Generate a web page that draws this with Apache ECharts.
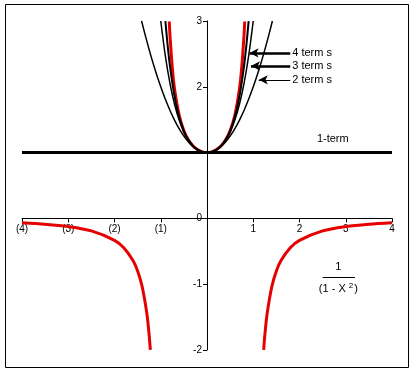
<!DOCTYPE html>
<html><head><meta charset="utf-8">
<script src="https://cdn.jsdelivr.net/npm/echarts@6/dist/echarts.min.js"></script>
<style>html,body{margin:0;padding:0;background:#fff}#c{width:416px;height:373px}</style>
</head><body><div id="c"></div>
<script>
const xRedLeft = [-4,-3.5,-3,-2.5,-2,-1.8,-1.6,-1.5,-1.4,-1.3,-1.25,-1.225];
const yRedLeft = [-0.0667,-0.0889,-0.125,-0.1905,-0.3333,-0.4464,-0.641,-0.8,-1.0417,-1.4493,-1.7778,-1.9975];
const xRedRight = [1.225,1.25,1.3,1.4,1.5,1.6,1.8,2,2.5,3,3.5,4];
const yRedRight = [-1.9975,-1.7778,-1.4493,-1.0417,-0.8,-0.641,-0.4464,-0.3333,-0.1905,-0.125,-0.0889,-0.0667];
const xRedMid = [-0.816,-0.8,-0.75,-0.7,-0.6,-0.5,-0.4,-0.3,-0.2,-0.1,0,0.1,0.2,0.3,0.4,0.5,0.6,0.7,0.75,0.8,0.816];
const yRedMid = [2.993,2.7778,2.2857,1.9608,1.5625,1.3333,1.1905,1.0989,1.0417,1.0101,1,1.0101,1.0417,1.0989,1.1905,1.3333,1.5625,1.9608,2.2857,2.7778,2.993];
const xOne = [-4,4];
const yOne = [1,1];
const xTwo = [-1.414,-1.3,-1.2,-1.1,-1,-0.9,-0.8,-0.7,-0.6,-0.5,-0.4,-0.3,-0.2,-0.1,0,0.1,0.2,0.3,0.4,0.5,0.6,0.7,0.8,0.9,1,1.1,1.2,1.3,1.414];
const yTwo = [3,2.69,2.44,2.21,2,1.81,1.64,1.49,1.36,1.25,1.16,1.09,1.04,1.01,1,1.01,1.04,1.09,1.16,1.25,1.36,1.49,1.64,1.81,2,2.21,2.44,2.69,3];
const xThree = [-1,-0.9,-0.8,-0.7,-0.6,-0.5,-0.4,-0.3,-0.2,-0.1,0,0.1,0.2,0.3,0.4,0.5,0.6,0.7,0.8,0.9,1];
const yThree = [3,2.4661,2.0496,1.7301,1.4896,1.3125,1.1856,1.0981,1.0416,1.0101,1,1.0101,1.0416,1.0981,1.1856,1.3125,1.4896,1.7301,2.0496,2.4661,3];
const xFour = [-0.9,-0.85,-0.8,-0.7,-0.6,-0.5,-0.4,-0.3,-0.2,-0.1,0,0.1,0.2,0.3,0.4,0.5,0.6,0.7,0.8,0.85,0.9];
const yFour = [2.9975,2.6217,2.3117,1.8477,1.5363,1.3281,1.1897,1.0988,1.0417,1.0101,1,1.0101,1.0417,1.0988,1.1897,1.3281,1.5363,1.8477,2.3117,2.6217,2.9975];
const xTickLabels = {"-4":"(4)","-3":"(3)","-2":"(2)","-1":"(1)","0":"","1":"1","2":"2","3":"3","4":"4"};
const yTickLabels = {"-2":"-2","-1":"-1","0":"0","1":"","2":"2","3":"3"};
const annoLabels = ["4 term s","3 term s","2 term s","1-term"];

const pairs = (xs, ys) => xs.map((x,i)=>[x, ys[i]]);
const FONT = "Liberation Sans";
const GRID = {left:22,right:24,top:21,bottom:23};
const W = 416, H = 373;
const RED = '#e60000';
const chart = echarts.init(document.getElementById('c'), null, {renderer:'canvas'});
const blk = (name, xs, ys, w) => ({name, type:'line', data:pairs(xs,ys), showSymbol:false, smooth:0.3,
  lineStyle:{color:'#000', width:w}, z:3, animation:false});
const red = (name, xs, ys, z) => ({name, type:'line', data:pairs(xs,ys), showSymbol:false, smooth:0.3,
  lineStyle:{color:RED, width:3}, z:z, animation:false});
chart.setOption({
  animation:false,
  grid:GRID,
  graphic:[{type:'rect', shape:{x:5.5,y:4.5,width:403,height:363}, style:{fill:'none', stroke:'#000', lineWidth:1}, silent:true}],
  xAxis:{type:'value', min:-4, max:4, interval:1, position:'bottom',
    axisLine:{onZero:false, lineStyle:{color:'#000', width:1}},
    axisTick:{show:true, length:4, inside:false, lineStyle:{color:'#000'}},
    splitLine:{show:false},
    axisLabel:{color:'#000', fontFamily:FONT, fontSize:10, margin:6, formatter:v=>xTickLabels[String(v)] ?? ''}},
  yAxis:{type:'value', min:-2, max:3, interval:1, position:'left',
    axisLine:{onZero:false, lineStyle:{color:'#000', width:1}},
    axisTick:{show:true, length:4, lineStyle:{color:'#000'}},
    splitLine:{show:false},
    axisLabel:{color:'#000', fontFamily:FONT, fontSize:10, margin:5, formatter:v=>yTickLabels[String(v)] ?? ''}},
  series:[
    red('exact mid', xRedMid, yRedMid, 2),
    blk('1-term', xOne, yOne, 3),
    blk('2 terms', xTwo, yTwo, 1.5),
    blk('3 terms', xThree, yThree, 1.5),
    blk('4 terms', xFour, yFour, 2),
    red('exact left', xRedLeft, yRedLeft, 4),
    red('exact right', xRedRight, yRedRight, 4),
    {type:'line', data:[], silent:true, z:5,
      markLine:{silent:true, animation:false, symbol:['none','arrow'], symbolSize:[7,9],
        label:{show:true, position:'start', distance:2, color:'#000', fontFamily:FONT, fontSize:11, formatter:p=>p.name},
        data:[
          [{name:annoLabels[0], coord:[1.8,2.515], lineStyle:{color:'#000',width:2.5,type:'solid'}},{coord:[0.92,2.515]}],
          [{name:annoLabels[1], coord:[1.8,2.318], lineStyle:{color:'#000',width:2.5,type:'solid'}},{coord:[0.95,2.318]}],
          [{name:annoLabels[2], coord:[1.8,2.106], lineStyle:{color:'#000',width:1,type:'solid'}},{coord:[1.12,2.106]}],
          [{coord:[2.5,-0.889], symbol:'none', lineStyle:{color:'#000',width:1,type:'solid'}, label:{show:false}},{coord:[3.2,-0.889], symbol:'none'}]
        ]},
      markPoint:{silent:true, animation:false, symbol:'circle', symbolSize:0,
        label:{show:true, color:'#000', fontFamily:FONT, fontSize:11},
        data:[
          {coord:[2.72,1.21], label:{formatter:annoLabels[3]}},
          {coord:[2.84,-0.74], label:{formatter:'1'}},
          {coord:[2.84,-1.07], label:{formatter:'{a|(1 - X }{s|2}{a|)}', rich:{a:{fontFamily:FONT,fontSize:11,color:'#000'}, s:{fontFamily:FONT,fontSize:8,color:'#000',padding:[0,1,7,0]}}}}
        ]}
    }
  ]
});
// place axes through the origin
const px0 = chart.convertToPixel({xAxisIndex:0}, 0);
const py0 = chart.convertToPixel({yAxisIndex:0}, 0);
chart.setOption({
  xAxis:{offset: -((H - GRID.bottom) - py0)},
  yAxis:{offset: -(px0 - GRID.left)}
});
</script></body></html>
